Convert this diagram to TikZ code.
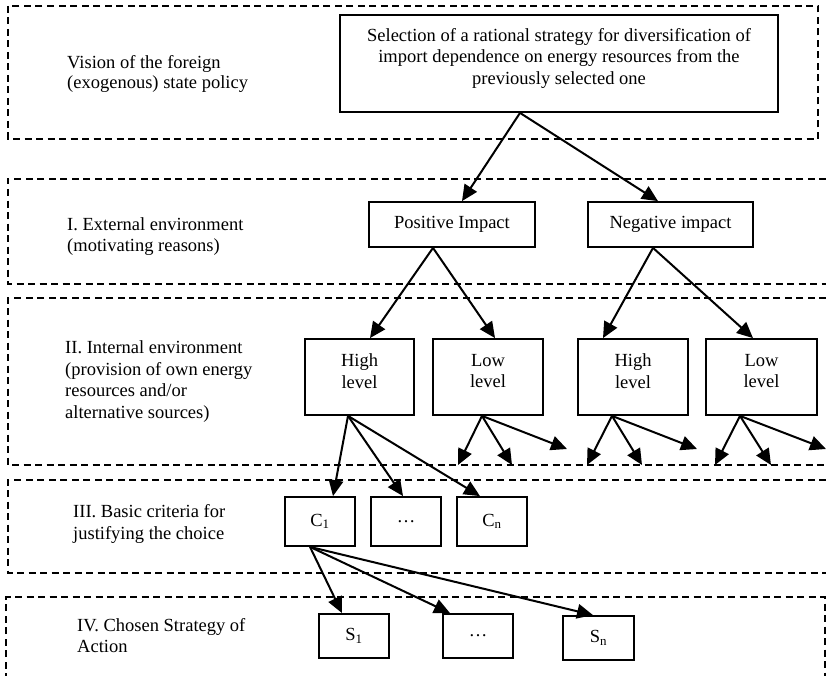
\documentclass[tikz,border=0pt]{standalone}
\usepackage{fontspec}
\setmainfont{Liberation Serif}
\usetikzlibrary{arrows.meta}
\begin{document}
\begin{tikzpicture}[x=1pt,y=-1pt,
  panel/.style={draw, line width=1.5pt, dash pattern=on 7pt off 4.5pt},
  box/.style={draw, line width=1.8pt, inner sep=0pt, font=\fontsize{18.5}{21.5}\selectfont},
  intext/.style={inner sep=0pt, align=center, anchor=north, font=\fontsize{18.5}{21.5}\selectfont},
  lbl/.style={anchor=north west, align=left, inner sep=0pt, font=\fontsize{18.5}{21.5}\selectfont},
  arr/.style={line width=2pt, -{Triangle[length=16pt,width=14.5pt]}}]
\useasboundingbox (0,0) rectangle (826,676);

% dashed panels
\draw[panel] (8,6) rectangle (818,139);
\draw[panel] (826,179) -- (8,179) -- (8,284) -- (826,284);
\draw[panel] (826,298) -- (8,298) -- (8,465) -- (826,465);
\draw[panel] (826,480) -- (8,480) -- (8,573) -- (826,573);
\draw[panel] (6,680) -- (6,597) -- (825,597) -- (825,680);

% left labels
\node[lbl, font=\fontsize{18.5}{20}\selectfont] (l0) at (67,55) {Vision of the foreign\\(exogenous) state policy};
\node[lbl] (l1) at (67,217.3) {I. External environment\\(motivating reasons)};
\node[lbl] (l2) at (65,340.6) {II. Internal environment\\(provision of own energy\\resources and/or\\alternative sources)};
\node[lbl] (l3) at (73,504.6) {III. Basic criteria for\\justifying the choice};
\node[lbl] (l4) at (77,618) {IV. Chosen Strategy of\\Action};

% boxes
\node[box, minimum width=438pt, minimum height=97pt,
  label={[intext, yshift=-14pt]north:{Selection of a rational strategy for diversification of\\import dependence on energy resources from the\\previously selected one}}] (top) at (559,63.5) {};

\node[box, minimum width=166pt, minimum height=45pt] (pos) at (452,224.5) {Positive Impact};
\node[box, minimum width=165pt, minimum height=45pt] (neg) at (670.5,224.5) {Negative impact};

\node[box, minimum width=109pt, minimum height=76pt, label={[intext, yshift=-15.6pt]north:{High\\level}}] (hi1) at (359.5,377) {};
\node[box, minimum width=110pt, minimum height=76pt, label={[intext, yshift=-15.6pt]north:{Low\\level}}] (lo1) at (488,377) {};
\node[box, minimum width=110pt, minimum height=76pt, label={[intext, yshift=-15.6pt]north:{High\\level}}] (hi2) at (633,377) {};
\node[box, minimum width=111pt, minimum height=76pt, label={[intext, yshift=-15.6pt]north:{Low\\level}}] (lo2) at (761.5,377) {};

\node[box, minimum width=70pt, minimum height=49pt] (c1) at (320,521.5) {C\textsubscript{1}};
\node[box, minimum width=70pt, minimum height=49pt] (cd) at (406,521.5) {\ldots};
\node[box, minimum width=70pt, minimum height=49pt] (cn) at (492,521.5) {C\textsubscript{n}};

\node[box, minimum width=70pt, minimum height=44pt] (s1) at (354,636) {S\textsubscript{1}};
\node[box, minimum width=70pt, minimum height=44pt] (sd) at (478,636) {\ldots};
\node[box, minimum width=71pt, minimum height=44pt] (sn) at (598.5,638) {S\textsubscript{n}};

% free arrow ends
\coordinate (a1) at (458,465);
\coordinate (a2) at (512,465);
\coordinate (a3) at (567,449);
\coordinate (b1) at (587,465);
\coordinate (b2) at (642,465);
\coordinate (b3) at (697,449);
\coordinate (d1) at (715,465);
\coordinate (d2) at (771,465);
\coordinate (d3) at (826,449);

% connectors
\draw[arr] ([xshift=-39pt]top.south) -- ([xshift=10pt]pos.north);
\draw[arr] ([xshift=-39pt]top.south) -- ([xshift=-12.5pt]neg.north);

\draw[arr] ([xshift=-19pt]pos.south) -- ([xshift=10.5pt]hi1.north);
\draw[arr] ([xshift=-19pt]pos.south) -- ([xshift=7pt]lo1.north);
\draw[arr] ([xshift=-17.5pt]neg.south) -- ([xshift=-30pt]hi2.north);
\draw[arr] ([xshift=-17.5pt]neg.south) -- ([xshift=-8.5pt]lo2.north);

\draw[arr] ([xshift=-11.5pt]hi1.south) -- ([xshift=13pt]c1.north);
\draw[arr] ([xshift=-11.5pt]hi1.south) -- ([xshift=-3pt]cd.north);
\draw[arr] ([xshift=-11.5pt]hi1.south) -- ([xshift=-12pt]cn.north);

\draw[arr] ([xshift=-6pt]lo1.south) -- (a1);
\draw[arr] ([xshift=-6pt]lo1.south) -- (a2);
\draw[arr] ([xshift=-6pt]lo1.south) -- (a3);
\draw[arr] ([xshift=-21pt]hi2.south) -- (b1);
\draw[arr] ([xshift=-21pt]hi2.south) -- (b2);
\draw[arr] ([xshift=-21pt]hi2.south) -- (b3);
\draw[arr] ([xshift=-21.5pt]lo2.south) -- (d1);
\draw[arr] ([xshift=-21.5pt]lo2.south) -- (d2);
\draw[arr] ([xshift=-21.5pt]lo2.south) -- (d3);

\draw[arr] ([xshift=-10pt]c1.south) -- ([xshift=-12pt]s1.north);
\draw[arr] ([xshift=-10pt]c1.south) -- ([xshift=-28pt]sd.north);
\draw[arr] ([xshift=-10pt]c1.south) -- ([xshift=-5.5pt]sn.north);
\end{tikzpicture}
\end{document}
